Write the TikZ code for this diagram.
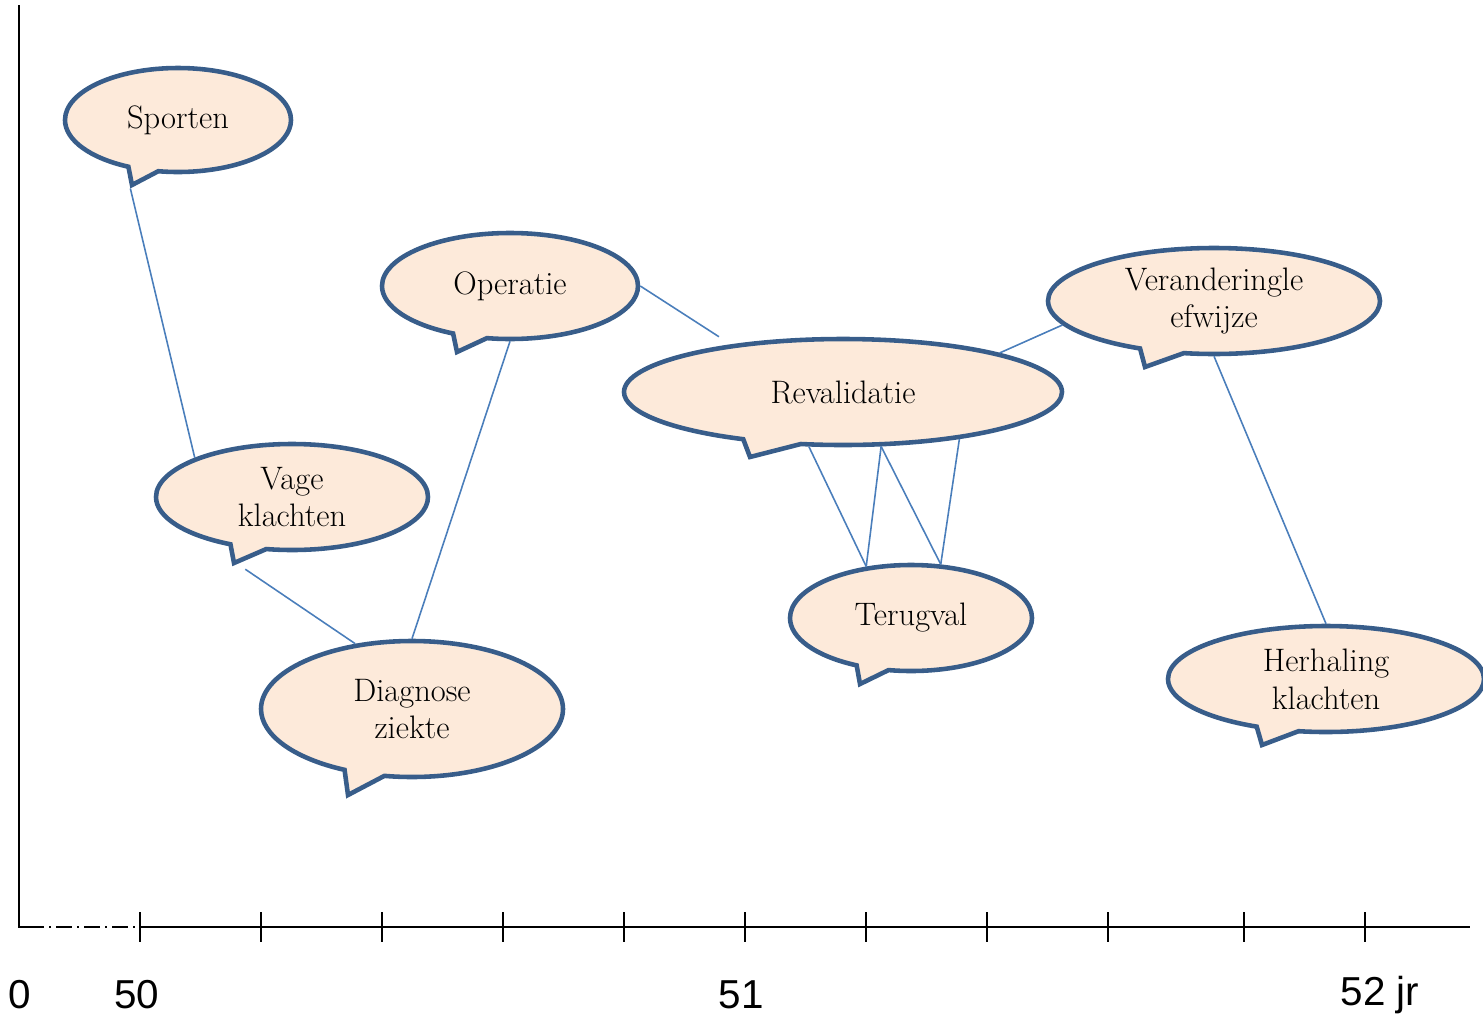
\documentclass[tikz,border=0pt]{standalone}
\usepackage{fontspec}
\newfontfamily\axisfont{Liberation Sans}
\usetikzlibrary{shapes.callouts}
\definecolor{bubbleFill}{RGB}{253,234,218}
\definecolor{bubbleEdge}{RGB}{56,93,138}
\definecolor{linkCol}{RGB}{74,126,187}
\tikzset{
    bubble/.style={ellipse callout, draw=bubbleEdge, fill=bubbleFill, line width=2.6pt,
        inner sep=0pt, align=center, callout pointer arc=16,
        font=\fontsize{18.5}{21.5}\selectfont},
    bubble size/.style 2 args={minimum width=2*#1*0.02cm, minimum height=2*#2*0.02cm},
    link/.style={draw=linkCol, line width=0.9pt},
    axis/.style={black, line width=1.1pt},
    axislabel/.style={font=\axisfont\fontsize{23}{27}\selectfont, inner sep=0pt},
    common settings/.style={
        x={(0.02cm,0)},
        y={(0,-0.02cm)}
    }
}

\begin{document}
\begin{tikzpicture}[common settings]

    \useasboundingbox (0,0) rectangle (1483,1018);

    % 1. Axes
    \draw[axis] (19,5) -- (19,927) -- (28,927);
    \draw[axis, dash pattern=on 9pt off 3pt on 1pt off 3pt] (28,927) -- (140,927);
    \draw[axis] (140,927) -- (1470,927);
    \foreach \tx in {140,261,382,503,624,745,866,987,1108,1244,1365} {
        \draw[axis] (\tx,912) -- (\tx,942);
    }
    \node[axislabel] (lab0) at (20,995) {0};
    \node[axislabel] (lab50) at (137,995) {50};
    \node[axislabel] (lab51) at (741,995) {51};
    \node[axislabel] (lab52) at (1380,995) {52 jr};

    % 2. Bubbles
    \node[bubble, bubble size={113}{52}, callout absolute pointer={(132,185)}]
        (sporten) at (178,120) {Sporten};
    \node[bubble, bubble size={128}{53}, callout absolute pointer={(457,352)}]
        (operatie) at (510,286) {Operatie};
    \node[bubble, bubble size={219}{53}, callout absolute pointer={(750,457)}]
        (revalidatie) at (843,392) {Revalidatie};
    \node[bubble, bubble size={166}{53}, callout absolute pointer={(1145,367)}]
        (verandering) at (1214,301) {Veranderingle\\efwijze};
    \node[bubble, bubble size={136}{53}, callout absolute pointer={(234,563)}]
        (vage) at (292,497) {Vage\\klachten};
    \node[bubble, bubble size={151}{68}, callout absolute pointer={(348,795)}]
        (diagnose) at (412,709) {Diagnose\\ziekte};
    \node[bubble, bubble size={121}{53}, callout absolute pointer={(860,684)}]
        (terugval) at (911,618) {Terugval};
    \node[bubble, bubble size={158}{53}, callout absolute pointer={(1262,745)}]
        (herhaling) at (1326,679) {Herhaling\\klachten};

    % 3. Links between bubbles
    \draw[link] (sporten.pointer) -- (vage.158);
    \draw[link] ([shift={(13,3)}]vage.pointer) -- (diagnose.131);
    \draw[link] (operatie.south) -- (diagnose.north);
    \draw[link, shorten >=8pt] (operatie.east) -- (revalidatie.157);
    \draw[link] (revalidatie.14) -- (verandering.189);
    \draw[link] (revalidatie.238) -- (terugval.131);
    \draw[link] (revalidatie.305) -- (terugval.131);
    \draw[link] (revalidatie.305) -- (terugval.61);
    \draw[link] (revalidatie.338) -- (terugval.61);
    \draw[link] (verandering.south) -- (herhaling.north);

\end{tikzpicture}
\end{document}
